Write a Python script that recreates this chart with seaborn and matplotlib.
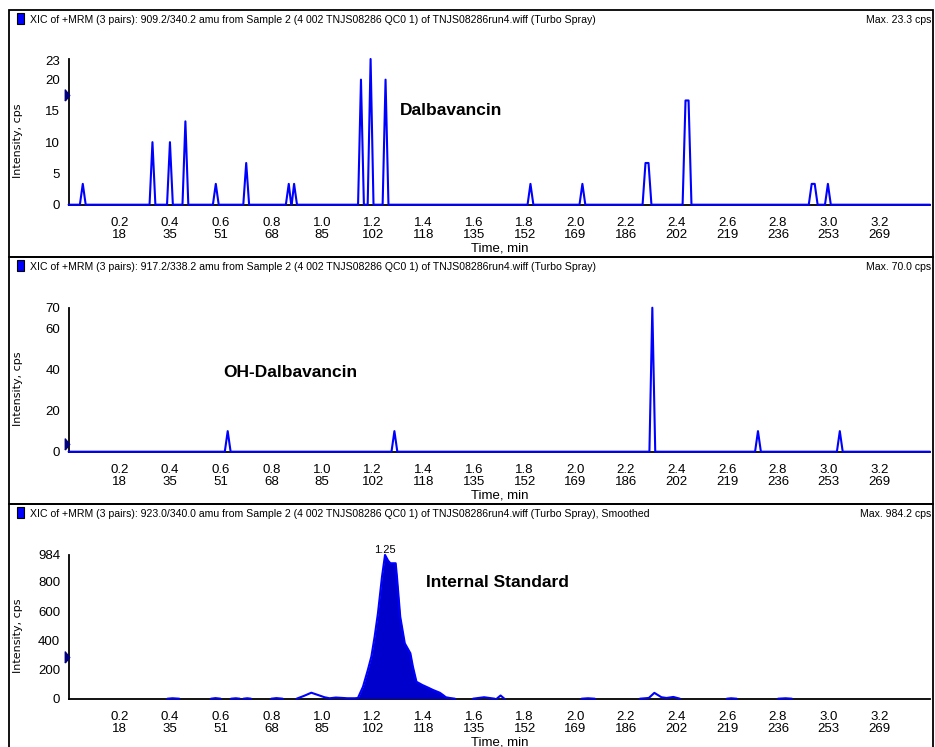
import numpy as np
import pandas as pd
import matplotlib
matplotlib.use("Agg")
import matplotlib.pyplot as plt
import seaborn as sns
from matplotlib.patches import Rectangle
from matplotlib.path import Path
from matplotlib.ticker import MultipleLocator
import matplotlib.transforms as mtransforms

# ------------------------------------------------------------------ data
time_ticks = [0.2, 0.4, 0.6, 0.8, 1.0, 1.2, 1.4, 1.6, 1.8, 2.0, 2.2, 2.4, 2.6, 2.8, 3.0, 3.2]
time_labels = ["0.2", "0.4", "0.6", "0.8", "1.0", "1.2", "1.4", "1.6", "1.8", "2.0",
               "2.2", "2.4", "2.6", "2.8", "3.0", "3.2"]
scan_labels = ["18", "35", "51", "68", "85", "102", "118", "135", "152", "169",
               "186", "202", "219", "236", "253", "269"]

titles = [
    "XIC of +MRM (3 pairs): 909.2/340.2 amu from Sample 2 (4 002 TNJS08286 QC0 1) of TNJS08286run4.wiff (Turbo Spray)",
    "XIC of +MRM (3 pairs): 917.2/338.2 amu from Sample 2 (4 002 TNJS08286 QC0 1) of TNJS08286run4.wiff (Turbo Spray)",
    "XIC of +MRM (3 pairs): 923.0/340.0 amu from Sample 2 (4 002 TNJS08286 QC0 1) of TNJS08286run4.wiff (Turbo Spray), Smoothed",
]
max_labels = ["Max. 23.3 cps", "Max. 70.0 cps", "Max. 984.2 cps"]
compound_names = ["Dalbavancin", "OH-Dalbavancin", "Internal Standard"]
compound_pos = [(1.307, 15.0), (0.609, 38.3), (1.41, 796.0)]
y_max = [23.3, 70.0, 984.2]
y_ticks = [[0, 5, 10, 15, 20, 23], [0, 20, 40, 60, 70], [0, 200, 400, 600, 800, 984]]
y_minor = [2.5, 10, 100]
threshold_marks = [17.5, 3.7, 282.0]

# Dalbavancin XIC peaks (first/last apex scan time, height in cps)
dal_top_start = [0.056, 0.331, 0.400, 0.461, 0.581, 0.701, 0.869, 0.890, 1.154, 1.192,
                 1.251, 1.823, 2.028, 2.277, 2.435, 2.933, 2.997]
dal_top_end = [0.056, 0.331, 0.400, 0.461, 0.581, 0.701, 0.869, 0.890, 1.154, 1.192,
               1.251, 1.823, 2.028, 2.289, 2.447, 2.945, 2.997]
dal_height = [3.33, 10.0, 10.0, 13.33, 3.33, 6.67, 3.33, 3.33, 20.0, 23.3,
              20.0, 3.33, 3.33, 6.67, 16.67, 3.33, 3.33]

# OH-Dalbavancin XIC peaks
oh_top = [0.628, 1.286, 2.304, 2.721, 3.044]
oh_height = [10.0, 10.0, 70.0, 10.0, 10.0]

# Internal standard (smoothed) main region
is_main_t = [0.900, 0.930, 0.958, 0.985, 1.010, 1.030, 1.055, 1.083, 1.100, 1.130,
             1.142, 1.162, 1.181, 1.195, 1.208, 1.221, 1.237, 1.249, 1.261, 1.270,
             1.291, 1.296, 1.309, 1.327, 1.349, 1.359, 1.373, 1.396, 1.420, 1.438,
             1.465, 1.478, 1.489, 1.504, 1.525]
is_main_y = [0, 20, 41, 25, 10, 3, 8, 5, 3, 3,
             5, 82, 196, 288, 425, 585, 835, 984, 945, 927,
             927, 835, 561, 379, 311, 219, 116, 94, 75, 60,
             41, 25, 10, 5, 0]
is_apex_t = 1.25
is_apex_label = "1.25"
# Internal standard small baseline bumps
is_bump_t = [[0.390, 0.410, 0.437], [0.562, 0.580, 0.600], [0.641, 0.660, 0.676],
             [0.690, 0.705, 0.720], [0.800, 0.820, 0.845], [1.596, 1.640, 1.682],
             [1.690, 1.705, 1.720], [2.025, 2.050, 2.077],
             [2.255, 2.290, 2.312, 2.340, 2.360, 2.387, 2.413],
             [2.598, 2.615, 2.637], [2.800, 2.830, 2.855]]
is_bump_y = [[0, 3, 0], [0, 4, 0], [0, 3, 0], [0, 3, 0], [0, 4, 0], [0, 10, 0],
             [0, 22, 0], [0, 3, 0], [0, 5, 40, 10, 5, 12, 0], [0, 3, 0], [0, 3, 0]]

# ------------------------------------------------------------------ helpers
SCAN = 0.0115
X_END = 3.40


def stick_trace(starts, ends, heights):
    pts = [(0.0, 0.0), (X_END, 0.0)]
    for s, e, h in zip(starts, ends, heights):
        pts += [(s - SCAN, 0.0), (s, h), (e, h), (e + SCAN, 0.0)]
    pts.sort(key=lambda p: p[0])
    return pd.DataFrame(pts, columns=["t", "y"])


df_dal = stick_trace(dal_top_start, dal_top_end, dal_height)
df_oh = stick_trace(oh_top, oh_top, oh_height)

rows = [(t, y, 0) for t, y in zip(is_main_t, is_main_y)]
for i, (ts, ys) in enumerate(zip(is_bump_t, is_bump_y), start=1):
    rows += [(t, y, i) for t, y in zip(ts, ys)]
df_is = pd.DataFrame(rows, columns=["t", "y", "seg"])

# ------------------------------------------------------------------ style
sns.set_style("white")
NARROW = ["Liberation Sans Narrow", "Liberation Sans", "DejaVu Sans"]
plt.rcParams["font.family"] = NARROW
plt.rcParams["axes.linewidth"] = 1.3
for key in ["text.color", "axes.labelcolor", "xtick.color", "ytick.color",
            "axes.edgecolor"]:
    plt.rcParams[key] = "black"

W, H = 935, 747
fig = plt.figure(figsize=(W / 100, H / 100), dpi=100)

LINE_C = "#0000FF"
FILL_C = "#0000CC"

panel_tops = [10, 257, 504]
panel_bottoms = [257, 504, 752]
axis_zero_px = [204.7, 451.7, 698.7]
axis_h_px = [145.7, 144.0, 143.8]
AX_L, AX_R = 68.6, 930.0

tri_path = Path([(-0.4, -1.0), (0.4, 0.0), (-0.4, 1.0), (-0.4, -1.0)])

for k in range(3):
    # panel frame
    fig.add_artist(Rectangle((9 / W, 1 - panel_bottoms[k] / H), (933 - 9) / W,
                             (panel_bottoms[k] - panel_tops[k]) / H,
                             transform=fig.transFigure, fill=False,
                             edgecolor="black", lw=1.3, zorder=0))
    # blue square icon
    top = panel_tops[k]
    fig.add_artist(Rectangle((17 / W, 1 - (top + 14) / H), 7 / W, 11 / H,
                             transform=fig.transFigure, facecolor="#0000FF",
                             edgecolor="black", lw=0.8))
    fig.text(30 / W, 1 - (top + 10) / H, titles[k], ha="left", va="center",
             fontsize=7.6, color="black")
    fig.text(931 / W, 1 - (top + 10) / H, max_labels[k], ha="right", va="center",
             fontsize=7.6, color="black")

    ax = fig.add_axes([AX_L / W, 1 - axis_zero_px[k] / H, (AX_R - AX_L) / W,
                       axis_h_px[k] / H])
    ax.set_facecolor("none")

    if k == 0:
        sns.lineplot(data=df_dal, x="t", y="y", ax=ax, color=LINE_C, lw=1.5,
                     estimator=None, sort=False, clip_on=False, zorder=3)
    elif k == 1:
        sns.lineplot(data=df_oh, x="t", y="y", ax=ax, color=LINE_C, lw=1.5,
                     estimator=None, sort=False, clip_on=False, zorder=3)
    else:
        main = df_is[(df_is.seg == 0) & (df_is.t >= 1.142)]
        ax.fill_between(main.t, 0, main.y, color=FILL_C, lw=0, zorder=2.6)
        sns.lineplot(data=df_is, x="t", y="y", units="seg", ax=ax, color=LINE_C,
                     lw=1.5, estimator=None, sort=False, clip_on=False, zorder=3)
        ax.text(is_apex_t, y_max[k], is_apex_label, ha="center", va="bottom",
                fontsize=8, color="black")

    ax.text(compound_pos[k][0], compound_pos[k][1], compound_names[k],
            ha="left", va="center", fontsize=12.5, fontweight="bold", color="black")

    # threshold marker
    btr = mtransforms.blended_transform_factory(ax.transAxes, ax.transData)
    ax.plot([-0.0024], [threshold_marks[k]], marker=tri_path, markersize=8,
            color="#000080", transform=btr, clip_on=False, zorder=4)

    ax.set_xlim(0, X_END)
    ax.set_ylim(0, y_max[k])
    ax.set_xticks(time_ticks, [f"{a}\n{b}" for a, b in zip(time_labels, scan_labels)])
    ax.xaxis.set_minor_locator(MultipleLocator(0.1))
    ax.set_yticks(y_ticks[k], [str(v) for v in y_ticks[k]])
    ax.yaxis.set_minor_locator(MultipleLocator(y_minor[k]))
    for lbl in ax.get_xticklabels():
        lbl.set_linespacing(1.05)
    ax.tick_params(axis="x", which="both", direction="out", length=4, width=1,
                   color="black", labelsize=9.5, pad=4.5, labelcolor="black")
    ax.tick_params(axis="y", which="major", direction="out", length=5, width=1,
                   color="black", labelsize=9.5, pad=1, labelcolor="black")
    ax.tick_params(axis="y", which="minor", direction="out", length=2.5, width=1,
                   color="black")
    for s in ["top", "right"]:
        ax.spines[s].set_visible(False)
    for s in ["left", "bottom"]:
        ax.spines[s].set_color("black")
        ax.spines[s].set_linewidth(1.3)

    ax.set_xlabel("Time, min", fontsize=9.5, color="black")
    ax.xaxis.set_label_coords(0.5, -44.0 / axis_h_px[k])
    ax.xaxis.label.set_verticalalignment("center")
    ax.set_ylabel("Intensity, cps", fontsize=8, family=["DejaVu Sans"], color="black")
    ax.yaxis.set_label_coords((18 - AX_L) / (AX_R - AX_L), 0.44)
    ax.yaxis.label.set_verticalalignment("center")

fig.savefig("out.png", dpi=100)
